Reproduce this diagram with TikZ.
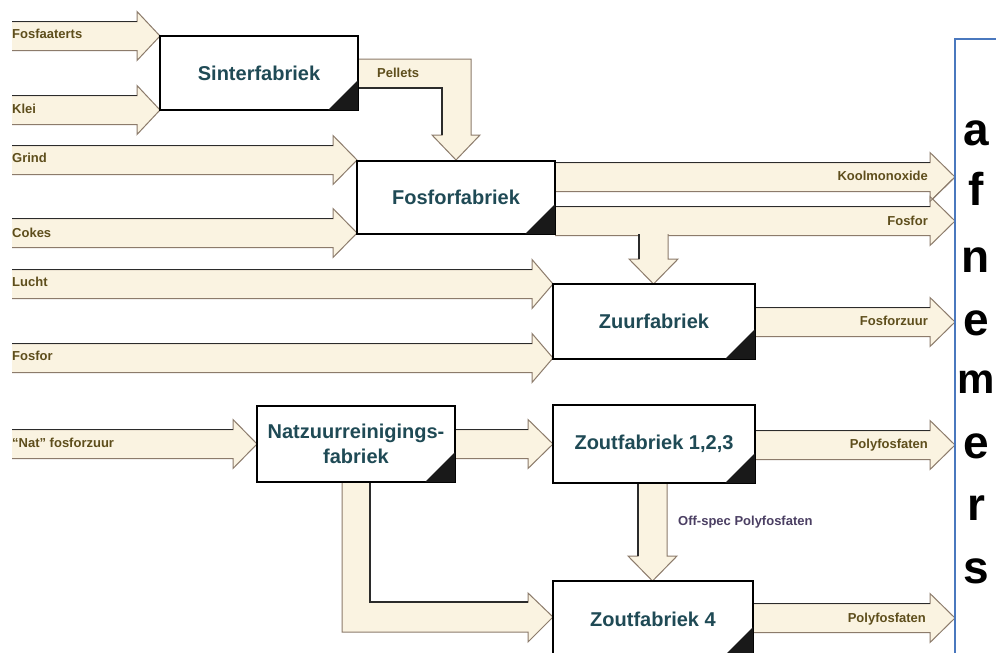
\documentclass[tikz,border=0pt]{standalone}
\usepackage{fontspec}
\setmainfont{Liberation Sans}
\usetikzlibrary{calc}
\definecolor{arrfill}{HTML}{FAF3E1}
\definecolor{arrline}{HTML}{8C7B6B}
\definecolor{arrdark}{HTML}{2B2B2B}
\definecolor{fabtext}{HTML}{1F4A55}
\definecolor{lbltext}{HTML}{5E4E1C}
\definecolor{offtext}{HTML}{4B3F63}
\definecolor{afnblue}{HTML}{4A78BE}
\tikzset{
  fab/.style={draw=black, line width=2.4pt, fill=white, outer sep=0pt, inner sep=2pt,
    font=\bfseries\fontsize{20}{25}\selectfont, text=fabtext, align=center},
  blockarrow/.style={fill=arrfill, draw=arrline, line width=1pt, line join=miter},
  darkedge/.style={draw=arrdark, line width=1.3pt},
  lbl/.style={font=\bfseries\fontsize{13}{15}\selectfont, text=lbltext, inner sep=0pt},
  offlbl/.style={font=\bfseries\fontsize{13}{15}\selectfont, text=offtext, inner sep=0pt},
  afn/.style={font=\bfseries\fontsize{46}{50}\selectfont, text=black, inner sep=0pt},
  afnm/.style={font=\bfseries\fontsize{42}{50}\selectfont, text=black, inner sep=0pt},
  afnline/.style={draw=afnblue, line width=1.5pt},
  cornertri/.style={fill=black!90},
}
% horizontal block arrow: start x, head base x, tip x, centre y
\newcommand\blockR[4]{%
  \path[blockarrow] (#1,#4-14.5) -- (#2,#4-14.5) -- (#2,#4-24.5) -- (#3,#4)
     -- (#2,#4+24.5) -- (#2,#4+14.5) -- (#1,#4+14.5);
  \draw[darkedge] (#1,#4-14.5) -- (#2,#4-14.5);}
% vertical (downward) block arrow: centre x, start y, head base y, tip y
\newcommand\blockD[4]{%
  \path[blockarrow] (#1-14.5,#2) -- (#1-14.5,#3) -- (#1-24.5,#3) -- (#1,#4)
     -- (#1+24.5,#3) -- (#1+14.5,#3) -- (#1+14.5,#2);
  \draw[darkedge] (#1-14.5,#2) -- (#1-14.5,#3);}
\newcommand\fabcorner[1]{\fill[cornertri] (#1.south east) -- ++(-30,0) -- ++(30,-30) -- cycle;}
\begin{document}
\begin{tikzpicture}[x=1pt,y=-1pt]
\clip (0,0) rectangle (996,653);
\fill[white] (0,0) rectangle (996,653);

% ---- input arrows
\blockR{12}{137}{160}{36}
\blockR{12}{137}{160}{110}
\blockR{12}{333}{357}{160}
\blockR{12}{333}{357}{233}
\blockR{12}{532}{553}{284}
\blockR{12}{532}{553}{358}
\blockR{12}{233}{257}{444}
\blockR{455}{528}{553}{444}

% ---- output arrows
\blockR{555}{930}{955}{177}
\blockR{555}{930}{955}{221}
\draw[draw=arrline, line width=1pt] (955,177) -- (930,201.5);
\blockR{755}{930}{955}{322}
\blockR{755}{930}{955}{445}
\blockR{753}{930}{955}{618}

% ---- vertical arrows
\blockD{653.5}{234}{259}{284}
\blockD{652.5}{483}{556}{581}

% ---- Pellets L-arrow
\path[blockarrow] (358,59) -- (471,59) -- (471,135) -- (480,135) -- (456,160)
   -- (432,135) -- (442,135) -- (442,88) -- (358,88);
\draw[darkedge] (358,88) -- (442,88) -- (442,135);

% ---- Natzuur -> Zoutfabriek 4 L-arrow
\path[blockarrow] (342,482) -- (342,632) -- (528,632) -- (528,642) -- (553,617)
   -- (528,593) -- (528,602) -- (370,602) -- (370,482);
\draw[darkedge] (370,482) -- (370,602) -- (528,602);

% ---- factory boxes
\node[fab, minimum width=198pt, minimum height=74pt] (sinter) at (259,73) {Sinterfabriek};
\node[fab, minimum width=198pt, minimum height=73pt] (fosfor) at (456,197.5) {Fosforfabriek};
\node[fab, minimum width=202pt, minimum height=75pt] (zuur) at (654,321.5) {Zuurfabriek};
\node[fab, minimum width=198pt, minimum height=76pt] (natz) at (356,444) {Natzuurreinigings-\\fabriek};
\node[fab, minimum width=202pt, minimum height=78pt] (zout) at (654,444) {Zoutfabriek 1,2,3};
\node[fab, minimum width=200pt, minimum height=76pt] (zoutv) at (653,619) {Zoutfabriek 4};
\fabcorner{sinter}
\fabcorner{fosfor}
\fabcorner{zuur}
\fabcorner{natz}
\fabcorner{zout}
\fabcorner{zoutv}

% ---- labels
\node[lbl, anchor=base west] (lfa) at (12,38) {Fosfaaterts};
\node[lbl, anchor=base west] (lkl) at (12,113) {Klei};
\node[lbl, anchor=base west] (lgr) at (12,162) {Grind};
\node[lbl, anchor=base west] (lco) at (12,237) {Cokes};
\node[lbl, anchor=base west] (llu) at (12,286) {Lucht};
\node[lbl, anchor=base west] (lfo) at (12,360) {Fosfor};
\node[lbl, anchor=base west] (lnat) at (12,447) {“Nat” fosforzuur};
\node[lbl, anchor=base west] (lpe) at (377,77) {Pellets};
\node[lbl, anchor=base east] (lko) at (928,180) {Koolmonoxide};
\node[lbl, anchor=base east] (lfu) at (928,225) {Fosfor};
\node[lbl, anchor=base east] (lfz) at (928,325) {Fosforzuur};
\node[lbl, anchor=base east] (lp1) at (928,448) {Polyfosfaten};
\node[lbl, anchor=base east] (lp2) at (926,622) {Polyfosfaten};
\node[offlbl, anchor=base west] (loff) at (678,525) {Off-spec Polyfosfaten};

% ---- afnemers
\draw[afnline] (955,665) -- (955,39) -- (1000,39);
\node[afn, anchor=base] (af1) at (976,145) {a};
\node[afn, anchor=base] (af2) at (976,205) {f};
\node[afn, anchor=base] (af3) at (976,272) {n};
\node[afn, anchor=base] (af4) at (976,335) {e};
\node[afnm, anchor=base] (af5) at (976.5,393) {m};
\node[afn, anchor=base] (af6) at (976,458) {e};
\node[afn, anchor=base] (af7) at (976,520) {r};
\node[afn, anchor=base] (af8) at (976,583) {s};
\end{tikzpicture}
\end{document}
